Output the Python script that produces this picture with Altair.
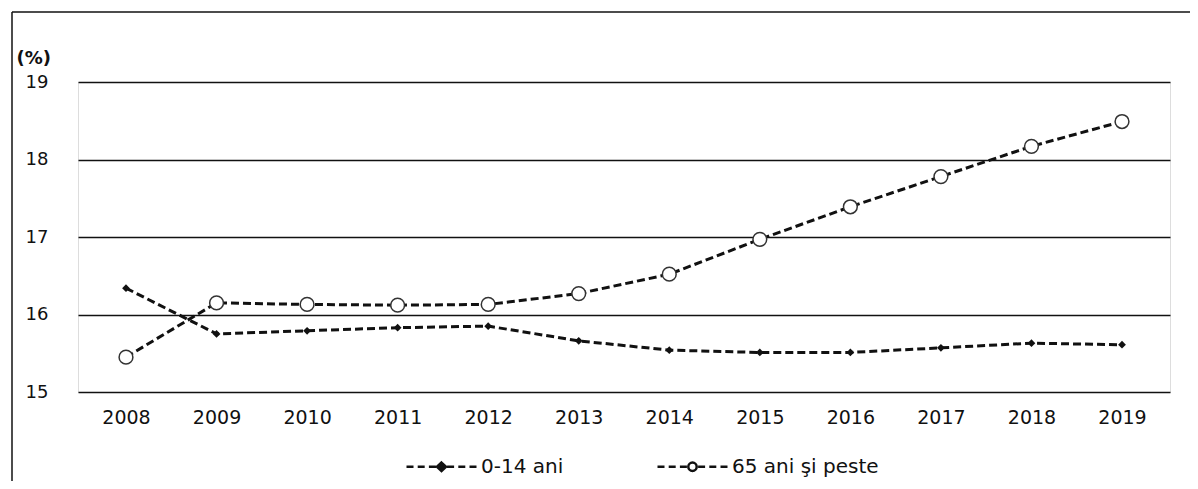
import altair as alt
import pandas as pd

years = ["2008", "2009", "2010", "2011", "2012", "2013", "2014", "2015", "2016", "2017", "2018", "2019"]
age_0_14 = [16.34, 15.75, 15.79, 15.83, 15.85, 15.66, 15.54, 15.51, 15.51, 15.57, 15.63, 15.61]
age_65 = [15.45, 16.15, 16.13, 16.12, 16.13, 16.27, 16.52, 16.97, 17.39, 17.78, 18.17, 18.49]
series_names = ["0-14 ani", "65 ani şi peste"]
y_ticks = [15, 16, 17, 18, 19]

rows = []
for yr, a, b in zip(years, age_0_14, age_65):
    rows.append({"an": yr, "serie": series_names[0], "val": a})
    rows.append({"an": yr, "serie": series_names[1], "val": b})
df = pd.DataFrame(rows)

FONT = "DejaVu Sans"
INK = "#111111"

x = alt.X("an:O", sort=years,
          scale=alt.Scale(type="point", padding=0.53),
          axis=alt.Axis(title=None, labelAngle=0, labelPadding=16, ticks=False,
                        domain=False, labelFontSize=19, labelColor=INK, labelFont=FONT))
y = alt.Y("val:Q",
          scale=alt.Scale(domain=[15, 19], nice=False, zero=False),
          axis=alt.Axis(values=y_ticks, title="(%)", titleAngle=0, titleX=-62, titleY=-24,
                        titleAlign="left", titleBaseline="middle", titleFontWeight="bold",
                        titleFontSize=18, titleColor=INK, titleFont=FONT,
                        grid=True, gridColor=INK, gridWidth=1.5, ticks=False, domain=False,
                        labelPadding=30, labelFontSize=18, labelColor=INK, labelFont=FONT))

base = alt.Chart(df)

lines = base.mark_line(strokeDash=[8, 4], strokeWidth=3, color=INK).encode(
    x=x, y=y, detail="serie:N")

pts_a = base.transform_filter(alt.datum.serie == series_names[0]).mark_point(
    shape="diamond", filled=True, size=60, color=INK, opacity=1).encode(x=x, y=y)

pts_b = base.transform_filter(alt.datum.serie == series_names[1]).mark_point(
    shape="circle", filled=True, fill="white", stroke="#333333", strokeWidth=1.5,
    size=190, opacity=1).encode(x=x, y=y)

diamond_path = ("M-1,0H-0.8M-0.68,0H-0.48M-0.36,0H-0.16"
                "M0,-0.12L0.13,0L0,0.12L-0.13,0Z"
                "M0.16,0H0.36M0.48,0H0.68M0.8,0H1")
circle_path = ("M-1,0H-0.8M-0.68,0H-0.48M-0.36,0H-0.16"
               "M0.12,0A0.12,0.12,0,1,1,-0.12,0A0.12,0.12,0,1,1,0.12,0Z"
               "M0.16,0H0.36M0.48,0H0.68M0.8,0H1")

legend = alt.Legend(orient="none", legendX=327, legendY=348, direction="horizontal",
                    title=None, symbolSize=4900, symbolStrokeColor=INK,
                    symbolStrokeWidth=2.5, symbolOpacity=1, labelFontSize=20,
                    labelColor=INK, labelFont=FONT, columnPadding=88, labelOffset=3)

leg = base.mark_point(filled=True, opacity=0, strokeWidth=2.5).encode(
    x=x, y=y,
    shape=alt.Shape("serie:N", scale=alt.Scale(domain=series_names,
                                               range=[diamond_path, circle_path]),
                    legend=legend),
    fill=alt.Fill("serie:N", scale=alt.Scale(domain=series_names, range=[INK, "white"]),
                  legend=legend),
    stroke=alt.Stroke("serie:N", scale=alt.Scale(domain=series_names, range=[INK, INK]),
                      legend=legend),
)

frame_df = pd.DataFrame({"k": [0]})
frame_left = alt.Chart(frame_df).mark_rule(color=INK, strokeWidth=1.5).encode(
    x=alt.value(-66), y=alt.value(-70), y2=alt.value(400))
frame_top = alt.Chart(frame_df).mark_rule(color=INK, strokeWidth=1.5).encode(
    x=alt.value(-66), x2=alt.value(1112), y=alt.value(-70))

chart = alt.layer(lines, pts_a, pts_b, leg, frame_left, frame_top).properties(
    width=1092, height=310,
    padding={"left": 70, "top": 74, "right": 20, "bottom": 89},
    autosize=alt.AutoSizeParams(type="none"),
).configure_view(stroke=None).configure(font=FONT)

chart.save("out.html", embed_options={"renderer": "svg", "actions": False})
